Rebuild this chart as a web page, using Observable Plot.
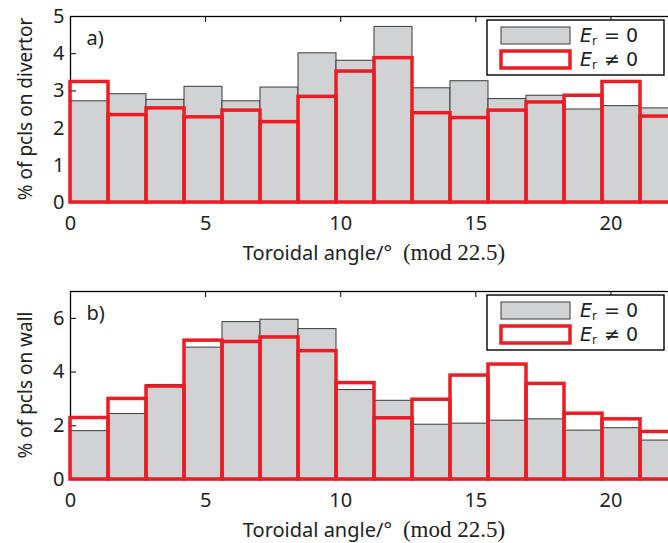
<!DOCTYPE html>
<html><head><meta charset="utf-8">
<script src="https://cdn.jsdelivr.net/npm/d3@7"></script>
<script src="https://cdn.jsdelivr.net/npm/@observablehq/plot@0.6"></script>
<style>
html,body{margin:0;padding:0;overflow:hidden;background:#fff;width:668px;height:543px}
#wrap svg{display:block;max-width:none !important}
</style></head><body><div id="wrap"></div>
<script>
// ---- data ----
const angleMax = 22.5;
const binCount = 16;
const divertorEr0 = [2.72, 2.91, 2.76, 3.11, 2.72, 3.09, 4.01, 3.81, 4.72, 3.07, 3.26, 2.78, 2.87, 2.50, 2.59, 2.53];
const divertorEr1 = [3.24, 2.35, 2.53, 2.29, 2.47, 2.16, 2.84, 3.52, 3.88, 2.40, 2.27, 2.47, 2.69, 2.87, 3.24, 2.31];
const wallEr0 = [1.80, 2.44, 3.52, 4.91, 5.86, 5.95, 5.60, 3.33, 2.93, 2.04, 2.08, 2.19, 2.24, 1.82, 1.91, 1.45];
const wallEr1 = [2.29, 3.00, 3.46, 5.17, 5.12, 5.29, 4.78, 3.59, 2.28, 2.97, 3.87, 4.28, 3.56, 2.45, 2.24, 1.77];
const xTicks = [0, 5, 10, 15, 20];
const yTicksA = [0, 1, 2, 3, 4, 5];
const yTicksB = [0, 2, 4, 6];
const xLabelSans = "Toroidal angle/°";
const xLabelSerif = "(mod 22.5)";
const seriesNames = [{rel: "=", kind: "zero"}, {rel: "≠", kind: "nonzero"}];

const W = 700, ML = 70, MR = 22;
const SANS = "'Noto Sans', 'Open Sans', sans-serif";
const LEG = "'DejaVu Sans', sans-serif";
const RED = "#ed1c24", GRAY = "#d1d2d4";

function rows(vals) {
  const w = angleMax / binCount;
  return vals.map((v, i) => ({x1: i * w, x2: (i + 1) * w, y: v}));
}

function panel({v0, v1, yDomain, yTicks, ylabel, tag, height, marginTop, marginBottom}) {
  const fh = height - marginTop - marginBottom;
  const fw = W - ML - MR;
  const inner = xTicks.filter(t => t > 0 && t < angleMax);
  const innerY = yTicks.filter(t => t > yDomain[0] && t < yDomain[1]);
  const chart = Plot.plot({
    width: W, height, marginLeft: ML, marginRight: MR, marginTop, marginBottom,
    style: {fontFamily: SANS, fontSize: "20px", color: "#222", background: "#fff", overflow: "visible", maxWidth: "none"},
    x: {domain: [0, angleMax]},
    y: {domain: yDomain},
    marks: [
      Plot.tickX(inner, {x: d => d, stroke: "#000", strokeWidth: 1, insetTop: fh - 6}),
      Plot.tickX(inner, {x: d => d, stroke: "#000", strokeWidth: 1, insetBottom: fh - 6}),
      Plot.tickY(innerY, {y: d => d, stroke: "#000", strokeWidth: 1, insetRight: fw - 6}),
      Plot.rectY(rows(v0), {x1: "x1", x2: "x2", y: "y", fill: GRAY, stroke: "#3a3a3a", strokeWidth: 1}),
      Plot.frame({stroke: "#000", strokeWidth: 1.3}),
      Plot.rectY(rows(v1), {x1: "x1", x2: "x2", y: "y", fill: "none", stroke: RED, strokeWidth: 3.5}),
      Plot.axisX({ticks: xTicks, tickFormat: "d", tickSize: 0, tickPadding: 13, label: null, fontSize: 20, fill: "#222"}),
      Plot.axisY({ticks: yTicks, tickFormat: "d", tickSize: 0, tickPadding: 6, label: null, fontSize: 20, fill: "#222"}),
      Plot.text([tag], {text: d => d, frameAnchor: "top-left", dx: 16, dy: 22, lineAnchor: "middle", textAnchor: "start", fontSize: 20, fill: "#222"})
    ]
  });
  const svg = d3.select(chart);
  const sx = chart.scale("x"), sy = chart.scale("y");
  const frameBottom = sy.apply(yDomain[0]);
  const frameTop = sy.apply(yDomain[1]);
  const frameRight = sx.apply(angleMax);
  // x label
  const xl = svg.append("text")
    .attr("x", sx.apply(angleMax / 2)).attr("y", frameBottom + 58)
    .attr("text-anchor", "middle").attr("fill", "#222").attr("font-size", 20);
  xl.append("tspan").attr("font-family", SANS).text(xLabelSans);
  xl.append("tspan").attr("dx", 11).attr("font-family", "'Liberation Serif', serif").attr("font-size", 23).text(xLabelSerif);
  // y label
  svg.append("text")
    .attr("transform", `translate(32,${sy.apply((yDomain[0] + yDomain[1]) / 2)}) rotate(-90)`)
    .attr("text-anchor", "middle").attr("fill", "#222").attr("font-size", 19).attr("font-family", SANS)
    .text(ylabel);
  // legend
  const lw = 177, lh = 55;
  const lx = frameRight - 14 - lw, ly = frameTop + 4;
  const g = svg.append("g").attr("text-anchor", "start");
  g.append("rect").attr("x", lx).attr("y", ly).attr("width", lw).attr("height", lh)
    .attr("fill", "#fff").attr("stroke", "#000").attr("stroke-width", 1.4);
  seriesNames.forEach((s, i) => {
    const ry = ly + 7 + i * 24;
    if (s.kind === "zero") {
      g.append("rect").attr("x", lx + 14).attr("y", ry).attr("width", 69).attr("height", 17)
        .attr("fill", GRAY).attr("stroke", "#3a3a3a").attr("stroke-width", 1);
    } else {
      g.append("rect").attr("x", lx + 14).attr("y", ry).attr("width", 69).attr("height", 17)
        .attr("fill", "#fff").attr("stroke", RED).attr("stroke-width", 3.5);
    }
    const t = g.append("text").attr("x", lx + 93).attr("y", ry + 15).attr("text-anchor", "start")
      .attr("font-family", LEG).attr("font-size", 19).attr("fill", "#222");
    t.append("tspan").attr("font-style", "italic").text("E");
    t.append("tspan").attr("font-size", 12).attr("dy", 3).attr("dx", 0).text("r");
    t.append("tspan").attr("dy", -3).attr("dx", 7).text(s.rel + " 0");
  });
  return chart;
}

const wrap = document.getElementById("wrap");
wrap.appendChild(panel({v0: divertorEr0, v1: divertorEr1, yDomain: [0, 5], yTicks: yTicksA,
  ylabel: "% of pcls on divertor", tag: "a)", height: 272, marginTop: 16, marginBottom: 70}));
wrap.appendChild(panel({v0: wallEr0, v1: wallEr1, yDomain: [0, 7], yTicks: yTicksB,
  ylabel: "% of pcls on wall", tag: "b)", height: 271, marginTop: 19, marginBottom: 64}));
</script></body></html>
